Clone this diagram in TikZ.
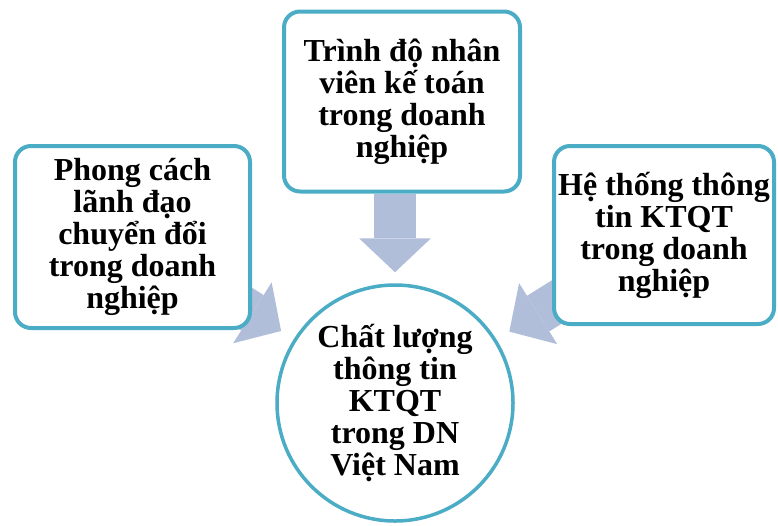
\documentclass[tikz,border=0pt]{standalone}
\usepackage{fontspec}
\setmainfont{Liberation Serif}
\usepackage{tikz}
\usetikzlibrary{arrows.meta, backgrounds}

\definecolor{boxline}{HTML}{4BACC6}
\definecolor{arrowfill}{RGB}{177,190,218}

\begin{document}
\begin{tikzpicture}[
    x=1pt, y=-1pt,
    factor/.style={
        rectangle,
        rounded corners=16pt,
        draw=boxline,
        line width=4pt,
        fill=white,
        align=center,
        inner sep=1pt,
        font=\fontsize{32}{32}\selectfont\bfseries
    },
    result/.style={
        circle,
        draw=boxline,
        line width=3.5pt,
        fill=white,
        align=center,
        inner sep=0pt,
        minimum size=236pt,
        font=\fontsize{32}{32}\selectfont\bfseries
    },
    blockarrow/.style={
        draw=arrowfill,
        line width=42pt,
        -{Triangle[length=34pt, width=72pt, line width=0pt 0]},
        arrowfill
    }
]
\useasboundingbox (0,0) rectangle (778,525);

\node[factor, minimum width=235pt, minimum height=182pt] (lanhdao) at (132.5,237)
    {Phong cách\\lãnh đạo\\chuyển đổi\\trong doanh\\nghiệp};
\node[factor, minimum width=236pt, minimum height=180pt] (trinhdo) at (402,101.5)
    {Trình độ nhân\\viên kế toán\\trong doanh\\nghiệp};
\node[factor, minimum width=220pt, minimum height=178pt] (hethong) at (664,235)
    {Hệ thống thông\\tin KTQT\\trong doanh\\nghiệp};
\node[result] (chatluong) at (395,403)
    {Chất lượng\\thông tin\\KTQT\\trong DN\\Việt Nam};

\begin{scope}[on background layer]
\draw[blockarrow, shorten >=15pt] (lanhdao.center) -- (chatluong);
\draw[blockarrow, shorten >=15pt] (hethong.center) -- (chatluong);
\end{scope}
\draw[blockarrow, shorten >=11pt] (chatluong |- trinhdo.south) -- (chatluong.north);
\end{tikzpicture}
\end{document}
